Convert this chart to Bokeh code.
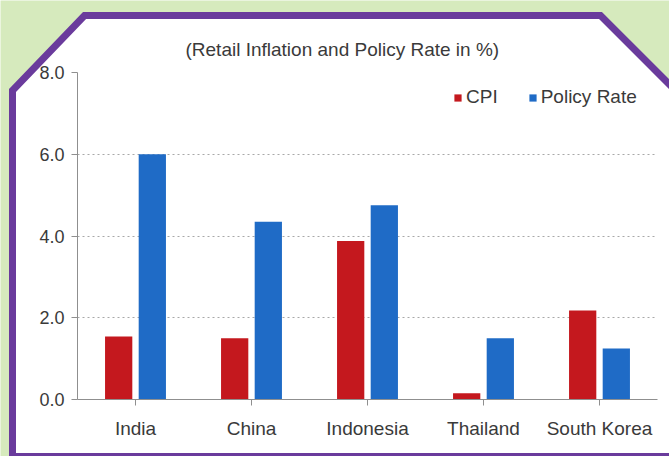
from bokeh.plotting import figure
from bokeh.models import (FactorRange, ColumnDataSource, Legend, LegendItem,
                          Range1d, FixedTicker, NumeralTickFormatter)
from bokeh.transform import dodge
from bokeh.embed import file_html
from bokeh.resources import INLINE

# Retail inflation (CPI) and policy rate, in per cent
countries = ["India", "China", "Indonesia", "Thailand", "South Korea"]
cpi = [1.54, 1.5, 3.88, 0.15, 2.18]
policy_rate = [6.0, 4.35, 4.75, 1.5, 1.25]
y_ticks = [0, 2, 4, 6, 8]
title_text = "(Retail Inflation and Policy Rate in %)"

FONT = "Liberation Sans"
TEXT = "#3a3a3a"
RED = "#c4181e"
BLUE = "#1f6bc6"
PURPLE = "#6a3b9c"
GREEN = "#d6eabd"

W, H = 669, 456
LEFT, RIGHT, TOP, BOTTOM = 77, 12, 72, 57

source = ColumnDataSource(dict(country=countries, cpi=cpi, policy=policy_rate))

p = figure(width=W, height=H, output_backend="svg", toolbar_location=None,
           x_range=FactorRange(*countries), y_range=(0, 8),
           min_border_left=LEFT, min_border_right=RIGHT,
           min_border_top=TOP, min_border_bottom=BOTTOM)
p.background_fill_color = "white"
p.border_fill_color = "white"
p.outline_line_color = None

r_cpi = p.vbar(x=dodge("country", -0.145, range=p.x_range), top="cpi",
               width=0.235, source=source, fill_color=RED, line_color=None)
r_pol = p.vbar(x=dodge("country", 0.145, range=p.x_range), top="policy",
               width=0.235, source=source, fill_color=BLUE, line_color=None)

# axes
p.yaxis.ticker = FixedTicker(ticks=y_ticks)
p.yaxis.formatter = NumeralTickFormatter(format="0.0")
for ax in (p.xaxis[0], p.yaxis[0]):
    ax.axis_line_color = "#8f8f8f"
    ax.major_tick_line_color = "#8f8f8f"
    ax.major_tick_in = 0
    ax.major_tick_out = 6
    ax.minor_tick_line_color = None
    ax.major_label_text_font = FONT
    ax.major_label_text_color = TEXT
p.xaxis.major_label_text_font_size = "19px"
p.xaxis.major_label_standoff = 12
p.yaxis.major_label_text_font_size = "18px"
p.yaxis.major_label_standoff = 7

p.xgrid.visible = False
p.ygrid.grid_line_color = "#a8a8a8"
p.ygrid.grid_line_dash = "2 3"

legend = Legend(items=[LegendItem(label="CPI", renderers=[r_cpi]),
                       LegendItem(label="Policy Rate", renderers=[r_pol])],
                orientation="horizontal", location=(376, 291),
                margin=0, padding=0, spacing=30,
                glyph_width=9, glyph_height=9, label_standoff=4,
                border_line_color=None, background_fill_alpha=0,
                label_text_font=FONT, label_text_font_size="19px",
                label_text_color=TEXT)
p.add_layout(legend)

p.title.text = title_text
p.title.align = "left"
p.title.offset = 108
p.title.standoff = 26
p.title.text_font = FONT
p.title.text_font_size = "19px"
p.title.text_font_style = "normal"
p.title.text_color = TEXT

# Panel decoration around the chart, given in canvas pixels.
# y: an extra range that maps straight onto canvas rows.
# x: pixel columns converted to the categorical axis' synthetic coordinates.
p.extra_y_ranges = {"px": Range1d(H - BOTTOM, TOP)}
frame_w = W - LEFT - RIGHT


def to_x(cols):
    return [(c - LEFT) / frame_w * len(countries) for c in cols]


frame_x = [84, 600, 680, 680, 12, 12]
frame_y = [15, 15, 95, 456, 456, 90]
back_x = [0, 669, 669, 0, 0] + frame_x[::-1] + [frame_x[-1], 0]
back_y = [0, 0, 456, 456, 0] + frame_y[::-1] + [frame_y[-1], 0]
p.patch(to_x(back_x), back_y, y_range_name="px", level="overlay",
        fill_color=GREEN, line_color=None)
p.patch(to_x(frame_x + frame_x[:1]), frame_y + frame_y[:1],
        y_range_name="px", level="overlay", fill_alpha=0,
        line_color=PURPLE, line_width=7, line_join="miter")

open("out.html", "w").write(file_html(p, INLINE))
